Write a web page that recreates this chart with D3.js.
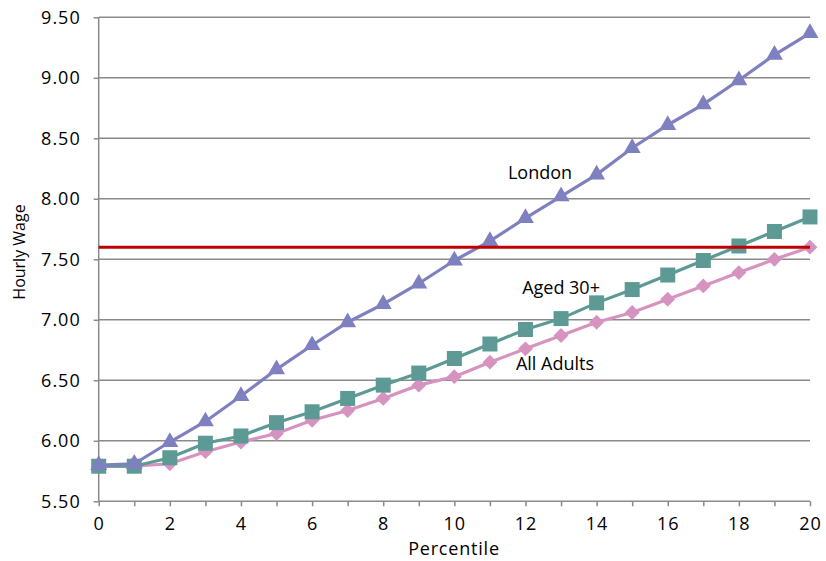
<!DOCTYPE html>
<html><head><meta charset="utf-8">
<script src="https://cdn.jsdelivr.net/npm/d3@7"></script>
<style>body{margin:0;background:#fff}svg text{font-family:"Open Sans",Lato,sans-serif;}</style>
</head><body><svg id="c" width="826" height="561"></svg>
<script>
const percentiles = d3.range(0, 21);
const london   = [5.80,5.81,5.99,6.16,6.37,6.59,6.79,6.98,7.13,7.30,7.49,7.65,7.84,8.02,8.20,8.42,8.61,8.78,8.98,9.19,9.37];
const aged30   = [5.79,5.79,5.86,5.98,6.04,6.15,6.24,6.35,6.46,6.56,6.68,6.80,6.92,7.01,7.14,7.25,7.37,7.49,7.61,7.73,7.85];
const allAdults= [5.79,5.79,5.81,5.91,5.99,6.06,6.17,6.25,6.35,6.46,6.53,6.65,6.76,6.87,6.98,7.06,7.17,7.28,7.39,7.50,7.60];
const threshold = 7.60;
const yTicks = [5.5,6,6.5,7,7.5,8,8.5,9,9.5];
const xTicks = [0,2,4,6,8,10,12,14,16,18,20];
const labels = [{text:"London",x:12.41,y:8.164},{text:"Aged 30+",x:13.0,y:7.213},{text:"All Adults",x:12.83,y:6.585}];

const svg = d3.select("#c");
const L=98.7,R=810,T=17.3,B=501.3;
const x = d3.scaleLinear().domain([0,20]).range([L,R]);
const y = d3.scaleLinear().domain([5.5,9.5]).range([B,T]);
const grey="#8a8a8a";

// gridlines
svg.append("g").selectAll("line").data(yTicks.slice(1)).join("line")
  .attr("x1",L).attr("x2",R).attr("y1",d=>y(d)).attr("y2",d=>y(d))
  .attr("stroke",grey).attr("stroke-width",1.5);

// y axis
const ya = svg.append("g").attr("transform",`translate(${L},0)`)
  .call(d3.axisLeft(y).tickValues(yTicks).tickFormat(d3.format(".2f")).tickSize(5).tickPadding(13));
ya.select(".domain").attr("stroke",grey).attr("stroke-width",1.5).attr("d",`M0,${B}V${T}`);
ya.selectAll(".tick line").attr("stroke",grey).attr("stroke-width",1.5);
ya.selectAll("text").attr("font-size",18).attr("letter-spacing",1).attr("fill","#000").attr("font-family","Open Sans, sans-serif");

// x axis
const xa = svg.append("g").attr("transform",`translate(0,${B})`)
  .call(d3.axisBottom(x).tickValues(percentiles).tickFormat(d=>xTicks.includes(d)?d:"").tickSize(5).tickPadding(11));
xa.select(".domain").attr("stroke",grey).attr("stroke-width",1.5).attr("d",`M${L},0H${R}`);
xa.selectAll(".tick line").attr("stroke",grey).attr("stroke-width",1.5);
xa.selectAll("text").attr("font-size",18).attr("letter-spacing",1).attr("fill","#000").attr("font-family","Open Sans, sans-serif");

// axis titles
svg.append("text").attr("x",454).attr("y",555).attr("text-anchor","middle").attr("font-size",18).attr("letter-spacing",0.8).text("Percentile");
svg.append("text").attr("transform","translate(25,252) rotate(-90)").attr("text-anchor","middle").attr("font-size",16).text("Hourly Wage");

// series
const line = d3.line().x((d,i)=>x(percentiles[i])).y(d=>y(d));
const series = [
  {data:allAdults,color:"#D793C0",shape:d3.symbolSquare,size:110,rot:45},
  {data:aged30,color:"#5E9A95",shape:d3.symbolSquare,size:225,rot:0},
  {data:london,color:"#7F80BF",shape:d3.symbolTriangle,size:125,rot:0},
];
series.forEach(s=>{
  svg.append("path").datum(s.data).attr("d",line).attr("fill","none").attr("stroke",s.color).attr("stroke-width",3.2);
  svg.append("g").selectAll("path").data(s.data).join("path")
    .attr("d",d3.symbol().type(s.shape).size(s.size))
    .attr("transform",(d,i)=>`translate(${x(percentiles[i])},${y(d)}) rotate(${s.rot})`)
    .attr("fill",s.color);
});

// threshold
svg.append("line").attr("x1",L).attr("x2",R).attr("y1",y(threshold)).attr("y2",y(threshold))
  .attr("stroke","#C00000").attr("stroke-width",3);

// labels
svg.append("g").selectAll("text").data(labels).join("text")
  .attr("x",d=>x(d.x)).attr("y",d=>y(d.y)).attr("text-anchor","middle").attr("font-size",18).attr("fill","#000").text(d=>d.text);
</script></body></html>
